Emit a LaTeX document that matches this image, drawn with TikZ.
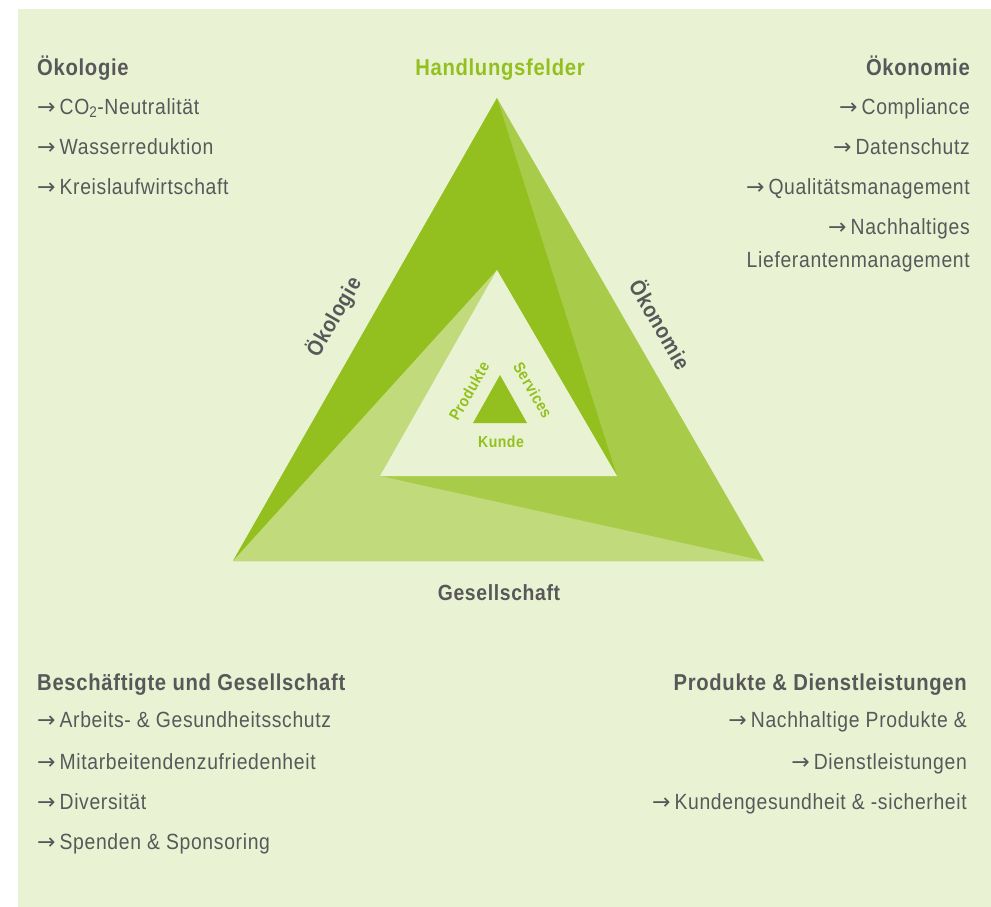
\documentclass[tikz,border=0pt]{standalone}
\usepackage{fontspec}
\setmainfont{Liberation Sans}[FakeStretch=0.88, LetterSpace=3]
\newfontfamily\arrowfont{DejaVu Sans}
\newcommand{\arr}{{\arrowfont →}\hspace{4pt}}
\usepackage{tikz}
\definecolor{panel}{HTML}{E9F3D3}
\definecolor{leafdark}{HTML}{93C01F}
\definecolor{leafmid}{HTML}{A8CC4A}
\definecolor{leaflight}{HTML}{C1DA7B}
\definecolor{ink}{HTML}{58585A}
\tikzset{
  head/.style={text=ink, font=\fontsize{23}{26}\selectfont\bfseries, inner sep=0pt},
  item/.style={text=ink, font=\fontsize{22}{26}\selectfont, inner sep=0pt},
  side/.style={text=ink, font=\fontsize{22}{26}\selectfont\bfseries, inner sep=0pt},
  core/.style={text=leafdark, font=\fontsize{16}{18}\selectfont\bfseries, inner sep=0pt},
}

\begin{document}
\begin{tikzpicture}[x=1pt,y=-1pt]
  \useasboundingbox (0,0) rectangle (991,907);
  \fill[panel] (18,9) rectangle (991,907);

  % outer and inner triangle
  \coordinate (A) at (497,98);
  \coordinate (B) at (233,561);
  \coordinate (C) at (764,561);
  \coordinate (a) at (497,270);
  \coordinate (b) at (380,476);
  \coordinate (c) at (617,476);

  \fill[leafmid] (A) -- (B) -- (C) -- cycle;
  \fill[leafdark] (A) -- (B) -- (a) -- (c) -- cycle;
  \fill[leaflight] (B) -- (a) -- (b) -- (C) -- cycle;
  \fill[panel] (a) -- (b) -- (c) -- cycle;
  \fill[leafdark] (500,375) -- (473,423) -- (527,423) -- cycle;

  \node[head, text=leafdark] (felder) at (500,70) {Handlungsfelder};
  \node[side] (gesell) at (499,593) {Gesellschaft};
  \node[side, rotate=60] (oekoL) at (334,317) {Ökologie};
  \node[side, rotate=-60] (oekoR) at (661,324) {Ökonomie};
  \node[core, rotate=60] (prod) at (469,391) {Produkte};
  \node[core, rotate=-60] (serv) at (533,390) {Services};
  \node[core] (kunde) at (501,442) {Kunde};

  % top left
  \node[head, anchor=base west] (oekTitle) at (37,76) {Ökologie};
  \node[item, anchor=base west] (oek1) at (37,114) {\arr CO\textsubscript{2}-Neutralität};
  \node[item, anchor=base west] (oek2) at (37,154) {\arr Wasserreduktion};
  \node[item, anchor=base west] (oek3) at (37,194) {\arr Kreislaufwirtschaft};

  % top right
  \node[head, anchor=base east] (konTitle) at (970,76) {Ökonomie};
  \node[item, anchor=base east] (kon1) at (970,114) {\arr Compliance};
  \node[item, anchor=base east] (kon2) at (970,154) {\arr Datenschutz};
  \node[item, anchor=base east] (kon3) at (970,194) {\arr Qualitätsmanagement};
  \node[item, anchor=base east] (kon4) at (970,234) {\arr Nachhaltiges};
  \node[item, anchor=base east] (kon5) at (970,267) {Lieferantenmanagement};

  % bottom left
  \node[head, anchor=base west] (gesTitle) at (37,690) {Beschäftigte und Gesellschaft};
  \node[item, anchor=base west] (ges1) at (37,727) {\arr Arbeits- \& Gesundheitsschutz};
  \node[item, anchor=base west] (ges2) at (37,769) {\arr Mitarbeitendenzufriedenheit};
  \node[item, anchor=base west] (ges3) at (37,809) {\arr Diversität};
  \node[item, anchor=base west] (ges4) at (37,849) {\arr Spenden \& Sponsoring};

  % bottom right
  \node[head, anchor=base east] (proTitle) at (967,690) {Produkte \& Dienstleistungen};
  \node[item, anchor=base east] (pro1) at (967,727) {\arr Nachhaltige Produkte \&};
  \node[item, anchor=base east] (pro2) at (967,769) {\arr Dienstleistungen};
  \node[item, anchor=base east] (pro3) at (967,809) {\arr Kundengesundheit \& -sicherheit};
\end{tikzpicture}
\end{document}
